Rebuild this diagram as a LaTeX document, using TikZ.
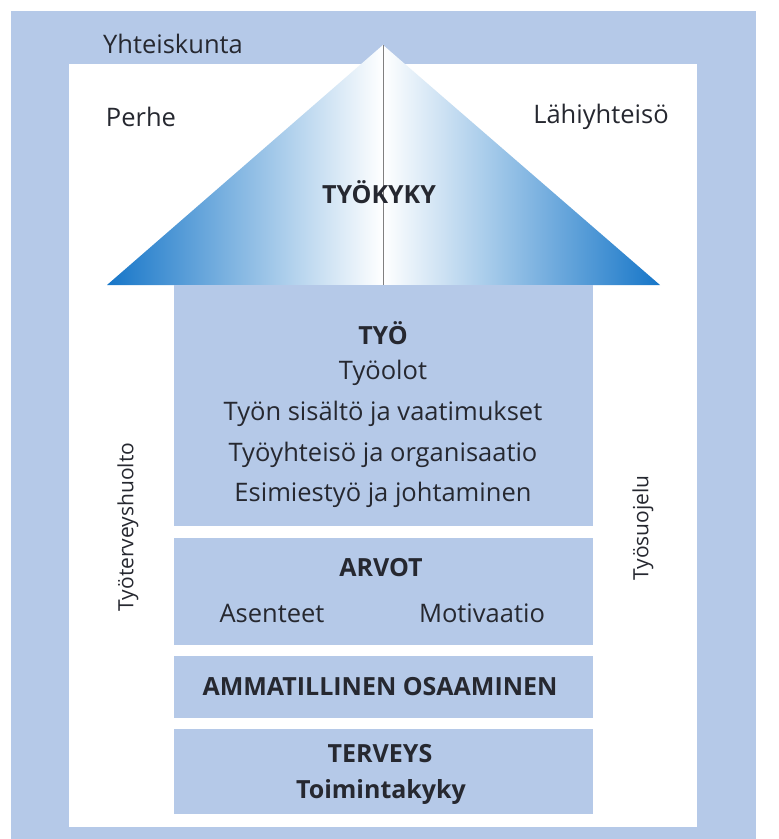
\documentclass[tikz,border=0pt]{standalone}
\usepackage{fontspec}
\setmainfont{Open Sans}
\usetikzlibrary{positioning}
\definecolor{frameblue}{RGB}{181,201,232}
\definecolor{roofblue}{RGB}{22,118,200}
\definecolor{textgray}{RGB}{38,40,48}

\begin{document}
\begin{tikzpicture}[x=1pt,y=-1pt,
    layer/.style={fill=frameblue, inner sep=0, minimum width=419pt},
    head/.style={font=\fontsize{25}{29}\selectfont\bfseries, text=textgray},
    item/.style={font=\fontsize{25.5}{29}\selectfont, text=textgray},
    side/.style={font=\fontsize{21}{25}\selectfont, text=textgray}]
    \useasboundingbox (0,0) rectangle (779,839);

    % society frame
    \fill[frameblue] (11,11) rectangle (756,839);
    \fill[white] (69,64) rectangle (697,827);

    % roof
    \coordinate (Apex) at (383,45);
    \coordinate (RoofLeft) at (107,285);
    \coordinate (RoofMid) at (383,285);
    \coordinate (RoofRight) at (660,285);
    \shade[left color=roofblue, middle color=roofblue!55!white, right color=white] (RoofLeft) -- (Apex) -- (RoofMid) -- cycle;
    \shade[left color=white, middle color=roofblue!55!white, right color=roofblue] (Apex) -- (RoofRight) -- (RoofMid) -- cycle;
    \draw[gray] (Apex) -- (RoofMid);

    % floors
    \node[layer, minimum height=241pt, anchor=north west] (Tyo) at (174,285) {};
    \node[layer, minimum height=107pt, below=11pt of Tyo] (Arvot) {};
    \node[layer, minimum height=62pt, below=11pt of Arvot] (Osaaminen) {};
    \node[layer, minimum height=85pt, below=11pt of Osaaminen] (Terveys) {};

    \node[item] (Yhteiskunta) at (173,44) {Yhteiskunta};
    \node[item] (Perhe) at (141,117) {Perhe};
    \node[item] (Lahi) at (601,117) {Lähiyhteisö};
    \node[head] (Tyokyky) at (379,192) {TYÖKYKY};

    \node[head] (TyoHead) at (383,333) {TYÖ};
    \node[item] (Tyoolot) at (383,373) {Työolot};
    \node[item] (Sisalto) at (383,414) {Työn sisältö ja vaatimukset};
    \node[item] (Yhteiso) at (383,455) {Työyhteisö ja organisaatio};
    \node[item] (Esimies) at (383,495) {Esimiestyö ja johtaminen};

    \node[head] (ArvotHead) at (381,568) {ARVOT};
    \node[item] (Asenteet) at (272,613) {Asenteet};
    \node[item] (Motivaatio) at (482,613) {Motivaatio};

    \node[head] (OsaaminenHead) at (380,687) {AMMATILLINEN OSAAMINEN};

    \node[head] (TerveysHead) at (380,754) {TERVEYS};
    \node[head] (Toimintakyky) at (381,792) {Toimintakyky};

    \node[side, rotate=90] (Huolto) at (128,527) {Työterveyshuolto};
    \node[side, rotate=90] (Suojelu) at (643,528) {Työsuojelu};
\end{tikzpicture}
\end{document}
